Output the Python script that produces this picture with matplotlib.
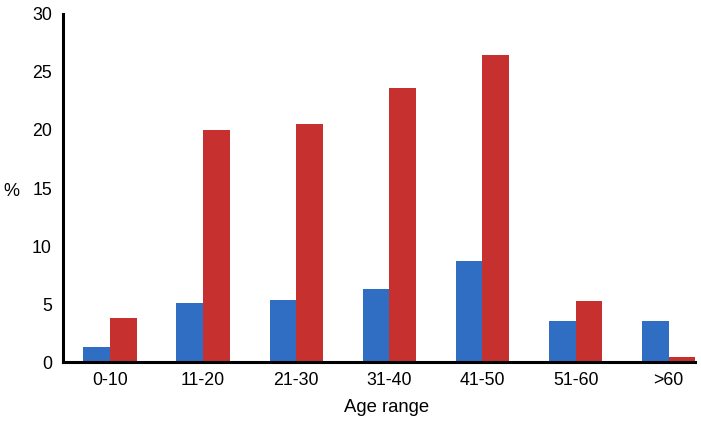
import numpy as np
import matplotlib.pyplot as plt

plt.rcParams['font.family'] = ['Liberation Sans', 'DejaVu Sans']

age_ranges = ['0-10', '11-20', '21-30', '31-40', '41-50', '51-60', '>60']
blue_values = [1.3, 5.1, 5.4, 6.3, 8.7, 3.6, 3.6]
red_values = [3.8, 20.0, 20.5, 23.6, 26.4, 5.3, 0.5]

blue_color = '#306EC4'
red_color = '#C6302E'
bar_width = 0.287

fig = plt.figure(figsize=(7.01, 4.22), dpi=100)
ax = fig.add_axes([0.0899, 0.141, 0.9021, 0.827])

x = np.arange(len(age_ranges))
ax.bar(x - bar_width / 2, blue_values, width=bar_width, color=blue_color)
ax.bar(x + bar_width / 2, red_values, width=bar_width, color=red_color)

ax.set_xlim(-0.505, len(age_ranges) - 1 + bar_width)
ax.set_ylim(0, 30)
ax.set_yticks([0, 5, 10, 15, 20, 25, 30])
ax.set_xticks(x)
ax.set_xticklabels(age_ranges)

for side in ['top', 'right']:
    ax.spines[side].set_visible(False)
for side in ['left', 'bottom']:
    ax.spines[side].set_linewidth(2.2)
    ax.spines[side].set_color('black')

ax.tick_params(axis='both', length=0, labelsize=12.8, colors='black')
ax.tick_params(axis='y', pad=8)
ax.tick_params(axis='x', pad=7)

ax.set_xlabel('Age range', fontsize=13.3)
ax.xaxis.set_label_coords(0.512, -0.104)
ax.set_ylabel('%', rotation=0, fontsize=13, va='center', ha='center')
ax.yaxis.set_label_coords(-0.081, 0.489)

fig.savefig('out.png', dpi=100)
